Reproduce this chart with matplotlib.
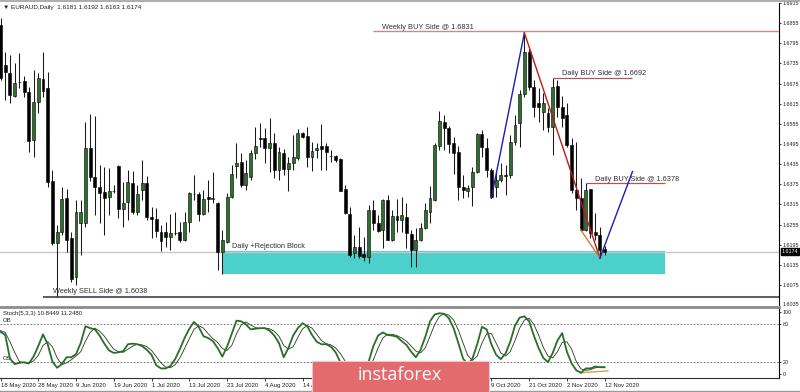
import matplotlib
matplotlib.use("Agg")
import matplotlib.pyplot as plt
import matplotlib.transforms as mtrans
from matplotlib.patches import Rectangle
from matplotlib.lines import Line2D
import numpy as np

plt.rcParams['font.family'] = ['Liberation Sans', 'DejaVu Sans']

# ---------------- data ----------------
header_text = "\u25BC EURAUD,Daily  1.6181 1.6192 1.6163 1.6174"
stoch_header = "Stoch(5,3,3) 10.8449 11.2480"

opens = [1.6850, 1.6730, 1.6707, 1.6638, 1.6680, 1.6683, 1.6650, 1.6507, 1.6620, 1.6689,
         1.6662, 1.6385, 1.6200, 1.6233, 1.6334, 1.6215, 1.6099, 1.6260, 1.6260, 1.6483,
         1.6397, 1.6367, 1.6352, 1.6337, 1.6355, 1.6429, 1.6301, 1.6322, 1.6379, 1.6292,
         1.6358, 1.6379, 1.6278, 1.6272, 1.6233, 1.6233, 1.6218, 1.6230, 1.6233, 1.6209,
         1.6263, 1.6346, 1.6346, 1.6287, 1.6337, 1.6331, 1.6319, 1.6173, 1.6203, 1.6337,
         1.6429, 1.6441, 1.6373, 1.6397, 1.6468, 1.6513, 1.6513, 1.6483, 1.6498, 1.6418,
         1.6468, 1.6421, 1.6438, 1.6453, 1.6528, 1.6519, 1.6456, 1.6477, 1.6489, 1.6489,
         1.6459, 1.6459, 1.6450, 1.6361, 1.6287, 1.6170, 1.6188, 1.6167, 1.6158, 1.6298,
         1.6260, 1.6239, 1.6328, 1.6209, 1.6281, 1.6269, 1.6278, 1.6227, 1.6179, 1.6209,
         1.6245, 1.6292, 1.6328, 1.6489, 1.6561, 1.6543, 1.6498, 1.6471, 1.6367, 1.6355,
         1.6367, 1.6412, 1.6525, 1.6483, 1.6418, 1.6367, 1.6388, 1.6403, 1.6403, 1.6501,
         1.6558, 1.6644, 1.6769, 1.6665, 1.6617, 1.6590, 1.6587, 1.6546, 1.6668, 1.6605,
         1.6581, 1.6492, 1.6358, 1.6334, 1.6239, 1.6361, 1.6233, 1.6224, 1.6181]
highs = [1.6870, 1.6769, 1.6760, 1.6736, 1.6766, 1.6698, 1.6665, 1.6715, 1.6707, 1.6769,
         1.6709, 1.6418, 1.6254, 1.6367, 1.6361, 1.6233, 1.6328, 1.6328, 1.6561, 1.6584,
         1.6578, 1.6432, 1.6427, 1.6424, 1.6373, 1.6432, 1.6382, 1.6418, 1.6415, 1.6373,
         1.6447, 1.6400, 1.6307, 1.6304, 1.6254, 1.6263, 1.6287, 1.6292, 1.6263, 1.6292,
         1.6352, 1.6403, 1.6352, 1.6358, 1.6388, 1.6412, 1.6322, 1.6239, 1.6349, 1.6432,
         1.6498, 1.6468, 1.6447, 1.6477, 1.6546, 1.6558, 1.6543, 1.6572, 1.6528, 1.6486,
         1.6480, 1.6456, 1.6522, 1.6540, 1.6531, 1.6546, 1.6501, 1.6498, 1.6555, 1.6498,
         1.6477, 1.6462, 1.6453, 1.6373, 1.6307, 1.6224, 1.6248, 1.6218, 1.6313, 1.6328,
         1.6284, 1.6331, 1.6343, 1.6298, 1.6331, 1.6337, 1.6319, 1.6239, 1.6245, 1.6260,
         1.6319, 1.6370, 1.6498, 1.6593, 1.6581, 1.6549, 1.6516, 1.6489, 1.6403, 1.6373,
         1.6427, 1.6528, 1.6537, 1.6513, 1.6424, 1.6412, 1.6438, 1.6432, 1.6522, 1.6581,
         1.6656, 1.6826, 1.6778, 1.6686, 1.6662, 1.6647, 1.6602, 1.6692, 1.6686, 1.6638,
         1.6617, 1.6513, 1.6501, 1.6394, 1.6378, 1.6361, 1.6289, 1.6248, 1.6192]
lows = [1.6686, 1.6626, 1.6617, 1.6635, 1.6662, 1.6635, 1.6471, 1.6456, 1.6587, 1.6635,
        1.6367, 1.6194, 1.6039, 1.6224, 1.6173, 1.6084, 1.6075, 1.6164, 1.6248, 1.6385,
        1.6284, 1.6260, 1.6224, 1.6284, 1.6349, 1.6275, 1.6248, 1.6269, 1.6287, 1.6284,
        1.6328, 1.6269, 1.6215, 1.6218, 1.6176, 1.6188, 1.6179, 1.6224, 1.6203, 1.6206,
        1.6233, 1.6328, 1.6266, 1.6284, 1.6292, 1.6319, 1.6120, 1.6108, 1.6200, 1.6334,
        1.6394, 1.6367, 1.6358, 1.6388, 1.6450, 1.6486, 1.6438, 1.6412, 1.6394, 1.6388,
        1.6403, 1.6355, 1.6418, 1.6447, 1.6513, 1.6427, 1.6415, 1.6453, 1.6418, 1.6418,
        1.6441, 1.6441, 1.6355, 1.6287, 1.6158, 1.6155, 1.6155, 1.6146, 1.6141, 1.6239,
        1.6233, 1.6185, 1.6209, 1.6206, 1.6233, 1.6233, 1.6185, 1.6129, 1.6129, 1.6206,
        1.6242, 1.6260, 1.6325, 1.6477, 1.6477, 1.6468, 1.6406, 1.6328, 1.6334, 1.6337,
        1.6310, 1.6409, 1.6456, 1.6397, 1.6334, 1.6337, 1.6382, 1.6343, 1.6394, 1.6492,
        1.6486, 1.6635, 1.6656, 1.6575, 1.6561, 1.6537, 1.6531, 1.6462, 1.6575, 1.6546,
        1.6486, 1.6349, 1.6298, 1.6236, 1.6236, 1.6215, 1.6209, 1.6155, 1.6163]
closes = [1.6692, 1.6709, 1.6641, 1.6677, 1.6679, 1.6650, 1.6504, 1.6620, 1.6692, 1.6653,
          1.6382, 1.6200, 1.6233, 1.6331, 1.6209, 1.6093, 1.6292, 1.6292, 1.6483, 1.6397,
          1.6367, 1.6349, 1.6334, 1.6355, 1.6354, 1.6301, 1.6319, 1.6382, 1.6292, 1.6346,
          1.6379, 1.6278, 1.6272, 1.6236, 1.6206, 1.6218, 1.6230, 1.6229, 1.6209, 1.6263,
          1.6349, 1.6345, 1.6287, 1.6331, 1.6331, 1.6334, 1.6173, 1.6209, 1.6337, 1.6406,
          1.6438, 1.6373, 1.6409, 1.6468, 1.6489, 1.6510, 1.6483, 1.6498, 1.6418, 1.6471,
          1.6421, 1.6438, 1.6456, 1.6528, 1.6516, 1.6456, 1.6474, 1.6483, 1.6480, 1.6471,
          1.6458, 1.6447, 1.6356, 1.6289, 1.6164, 1.6188, 1.6161, 1.6158, 1.6298, 1.6260,
          1.6236, 1.6328, 1.6209, 1.6281, 1.6269, 1.6284, 1.6230, 1.6179, 1.6209, 1.6245,
          1.6298, 1.6334, 1.6492, 1.6564, 1.6543, 1.6495, 1.6468, 1.6367, 1.6358, 1.6364,
          1.6412, 1.6525, 1.6486, 1.6418, 1.6337, 1.6388, 1.6403, 1.6401, 1.6501, 1.6552,
          1.6644, 1.6769, 1.6665, 1.6605, 1.6605, 1.6617, 1.6546, 1.6665, 1.6605, 1.6572,
          1.6492, 1.6358, 1.6334, 1.6239, 1.6358, 1.6230, 1.6224, 1.6179, 1.6174]

date_labels = ["18 May 2020", "28 May 2020", "9 Jun 2020", "19 Jun 2020", "1 Jul 2020",
               "13 Jul 2020", "23 Jul 2020", "4 Aug 2020", "14 Aug 2020", "26 Aug 2020",
               "7 Sep 2020", "17 Sep 2020", "29 Sep 2020", "9 Oct 2020", "21 Oct 2020",
               "2 Nov 2020", "12 Nov 2020"]
bars_per_label = 8

stoch_k = [68, 63, 25, 16, 18, 19, 17, 28, 45, 64, 48, 20, 10, 16, 27, 27, 32, 50, 77, 74,
           72, 62, 49, 38, 34, 35, 37, 48, 49, 48, 45, 39, 31, 14, 9, 9, 13, 24, 40, 58,
           73, 84, 76, 61, 58, 53, 42, 28, 44, 65, 86, 85, 80, 72, 73, 74, 74, 70, 62, 50,
           27, 42, 62, 74, 82, 77, 63, 52, 48, 48, 44, 35, 19, 8, 4, 6, 5, 5, 20, 45,
           62, 67, 63, 62, 60, 53, 47, 36, 27, 39, 60, 85, 96, 98, 97, 90, 74, 50, 25, 15,
           25, 48, 76, 72, 48, 31, 24, 33, 52, 78, 91, 93, 85, 62, 42, 26, 19, 34, 54, 66,
           36, 17, 6, 2, 9, 9, 12, 11, 10.8449]
stoch_d = [70, 67, 52, 35, 20, 18, 18, 21, 30, 46, 52, 44, 26, 15, 18, 23, 29, 36, 53, 67,
           74, 69, 61, 50, 40, 36, 35, 40, 45, 48, 47, 44, 38, 28, 18, 11, 10, 15, 26, 41,
           57, 72, 78, 74, 65, 57, 51, 41, 38, 46, 65, 79, 84, 79, 75, 73, 74, 73, 69, 61,
           46, 40, 44, 59, 73, 78, 74, 64, 54, 49, 47, 42, 33, 21, 10, 6, 5, 5, 10, 23,
           42, 58, 64, 64, 62, 58, 53, 45, 37, 34, 42, 61, 80, 93, 97, 95, 87, 71, 50, 30,
           22, 29, 50, 65, 65, 50, 34, 29, 36, 54, 74, 87, 90, 80, 63, 43, 29, 26, 36, 51,
           52, 40, 20, 8, 6, 7, 10, 11, 11.2480]

price_ticks = [1.6075, 1.6135, 1.6195, 1.6255, 1.6315, 1.6375, 1.6435, 1.6495, 1.6555,
               1.6615, 1.6675, 1.6735, 1.6795, 1.6855, 1.6915]
extra_low_tick = 1.6035
stoch_ticks = [0, 20, 80, 100]
stoch_levels = [20, 80]
bid_price = 1.6174

# drawn objects (bar index / price)
weekly_buy = 1.6831
weekly_buy_start = 78.9
daily_buy_1 = 1.6692
daily_buy_1_span = (117, 133.7)
daily_buy_2 = 1.6378
daily_buy_2_span = (124, 140.8)
weekly_sell = 1.6038
weekly_sell_start = 9.0
zone_span = (47.0, 140.8)
zone_prices = (1.6108, 1.6175)
impulse_up_x, impulse_up_y = [104, 111], [1.6334, 1.6826]
decline_x, decline_y = [111, 127], [1.6826, 1.6155]
minor_x, minor_y = [122.9, 127], [1.6240, 1.6155]
projection_x, projection_y = [127, 133.9], [1.6155, 1.6413]
stoch_trend_x, stoch_trend_y = [122.8, 128.7], [2, 5]

# ---------------- figure ----------------
W, H = 800, 392
fig = plt.figure(figsize=(W / 100, H / 100), dpi=100)
fig.patch.set_facecolor('white')

def fy(y):
    return 1 - y / H

main_top, main_bot = 3, 305
st_top, st_bot = 307, 378
right_px = 779

ax = fig.add_axes([0, fy(main_bot), right_px / W, (main_bot - main_top) / H])
ax2 = fig.add_axes([0, fy(st_bot), right_px / W, (st_bot - st_top) / H])

x_left = -0.106
x_right = 164.94
ax.set_xlim(x_left, x_right)
ax2.set_xlim(x_left, x_right)
ax.set_ylim(1.6915 - (main_bot - main_top) / 3357.0, 1.6915)
ax2.set_ylim((374 - st_bot) / 0.62, (374 - st_top) / 0.62)

o = np.array(opens); h = np.array(highs); l = np.array(lows); c = np.array(closes)
xi = np.arange(len(o))
up = c >= o
GREEN = '#2f7030'

# zone
ax.add_patch(Rectangle((zone_span[0], zone_prices[0]), zone_span[1] - zone_span[0],
                       zone_prices[1] - zone_prices[0], facecolor='#4bd0cb', edgecolor='none', zorder=1))
ax.axhline(bid_price, color='#c8c8c8', lw=1.0, zorder=1.5)

# candles
ax.vlines(xi, l, h, color='#1a1a1a', lw=0.75, zorder=2)
ax.bar(xi, np.maximum(np.abs(c - o), 0.00002), bottom=np.minimum(o, c), width=0.62,
       color=np.where(up, GREEN, '#000000'), edgecolor='#000000', linewidth=0.4, zorder=3)

# levels
ax.hlines(weekly_buy, weekly_buy_start, x_right, color='#c98a86', lw=1.0, zorder=4)
ax.hlines(daily_buy_1, *daily_buy_1_span, color='#a55a55', lw=0.9, zorder=4)
ax.hlines(daily_buy_2, *daily_buy_2_span, color='#a55a55', lw=0.9, zorder=4)
ax.hlines(weekly_sell, weekly_sell_start, x_right, color='#3c3f5a', lw=1.2, zorder=4, clip_on=False)

# trend lines
ax.plot(impulse_up_x, impulse_up_y, color='#1c1cb0', lw=1.0, zorder=5)
ax.plot(decline_x, decline_y, color='#c01818', lw=1.0, zorder=5)
ax.plot(minor_x, minor_y, color='#d07a30', lw=1.0, zorder=5)
ax.plot(projection_x, projection_y, color='#1c1cb0', lw=1.0, zorder=5)

TXT = '#303030'
FS = 5.3
def label(xv, yv, s, off=1.5):
    ax.annotate(s, xy=(xv, yv), xytext=(0, off), textcoords='offset pixels',
                fontsize=FS, color=TXT, va='baseline', ha='left', zorder=6)

label(80.8, weekly_buy, "Weekly BUY Side @ 1.6831", 2)
label(118.9, daily_buy_1, "Daily BUY Side @ 1.6692", 2.5)
label(126.0, daily_buy_2, "Daily BUY Side @ 1.6378", 2.5)
label(49.0, zone_prices[1], "Daily +Rejection Block", 3)
label(11.05, weekly_sell, "Weekly SELL Side @ 1.6038", 4)

# main axis styling
AX_FS = 3.9
for s in ['top', 'left', 'bottom']:
    ax.spines[s].set_visible(False)
ax.spines['right'].set_color('#000000')
ax.spines['right'].set_linewidth(0.8)
ax.set_xticks([])
ax.yaxis.tick_right()
ax.set_yticks(price_ticks)
ax.set_yticklabels([f"{p:.4f}" for p in price_ticks])
ax.tick_params(axis='y', length=1.5, width=0.6, pad=1.2, labelsize=AX_FS, colors='#202020')

# extra bottom label and bid label
fig.text(782.5 / W, fy(304.5), f"{extra_low_tick:.4f}", fontsize=AX_FS, color='#202020', va='center', ha='left')
btrans = mtrans.blended_transform_factory(ax.transAxes, ax.transData)
ax.text(1.0035, bid_price, f"{bid_price:.4f}", transform=btrans, fontsize=AX_FS, color='white',
        va='center', ha='left', clip_on=False, zorder=10,
        bbox=dict(boxstyle='square,pad=0.2', fc='black', ec='black'))

# header
fig.text(3 / W, fy(8), header_text, fontsize=4.6, color='#202020', va='center', ha='left')

# ---------------- stochastic ----------------
for lv in stoch_levels:
    ax2.axhline(lv, color='#606060', lw=0.6, ls=(0, (2, 2)), zorder=1)
ax2.plot(stoch_trend_x, stoch_trend_y, color='#d2a05a', lw=1.0, zorder=2)
ax2.plot(xi, stoch_d, color='#303030', lw=0.6, zorder=3)
ax2.plot(xi, stoch_k, color='#267026', lw=1.3, zorder=4)

ax2.spines['left'].set_visible(False)
ax2.spines['top'].set_color('#8c8c8c')
ax2.spines['top'].set_linewidth(2.0)
ax2.spines['right'].set_color('#000000')
ax2.spines['right'].set_linewidth(0.8)
ax2.spines['bottom'].set_color('#303030')
ax2.spines['bottom'].set_linewidth(0.8)
ax2.yaxis.tick_right()
ax2.set_yticks(stoch_ticks)
ax2.set_yticklabels([str(t) for t in stoch_ticks])
ax2.tick_params(axis='y', length=1.5, width=0.6, pad=1.2, labelsize=AX_FS, colors='#202020')

tick_idx = list(range(0, len(o), bars_per_label))
ax2.set_xticks(tick_idx)
ax2.set_xticklabels(date_labels, ha='left')
ax2.tick_params(axis='x', length=2, width=0.6, pad=1.5, labelsize=4.3, colors='#202020')

ax2.text(0.004, 1 - 4 / (st_bot - st_top), stoch_header, transform=ax2.transAxes, fontsize=4.3,
         color='#202020', va='top', ha='left')
ax2.annotate("OB", xy=(0, 80), xycoords=('axes fraction', 'data'), xytext=(3, 1),
             textcoords='offset pixels', fontsize=4.3, color='#202020', va='bottom')
ax2.annotate("OS", xy=(0, 20), xycoords=('axes fraction', 'data'), xytext=(3, 1),
             textcoords='offset pixels', fontsize=4.3, color='#202020', va='bottom')

# frame lines
fig.add_artist(Line2D([0, 1], [fy(0.8), fy(0.8)], color='#a0a0a0', lw=1.2))
fig.add_artist(Line2D([0, 1], [fy(391), fy(391)], color='#9a9a9a', lw=1.0))

# logo
fig.add_artist(Rectangle((311.7 / W, 0), (489 - 311.7) / W, (H - 360.7) / H,
                         transform=fig.transFigure, facecolor='#e36a6d', edgecolor='#f3c4c4',
                         lw=0.8, zorder=20))
fig.text(399.5 / W, fy(375), "instaforex", fontsize=13, color='white', ha='center', va='center',
         family=['Open Sans', 'DejaVu Sans'], zorder=21)

fig.savefig("out.png", dpi=100)
